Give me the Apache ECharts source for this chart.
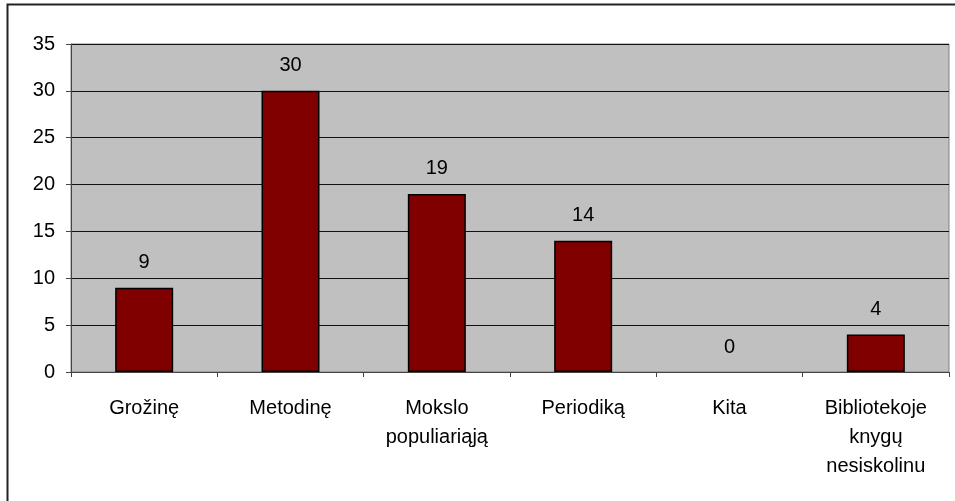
<!DOCTYPE html>
<html>
<head>
<meta charset="utf-8">
<script src="https://cdn.jsdelivr.net/npm/echarts@6/dist/echarts.min.js"></script>
<style>
  html, body { margin: 0; padding: 0; background: #fff; }
  #chart { width: 955px; height: 501px; }
</style>
</head>
<body>
<div id="chart"></div>
<script>
var categories = ['Grožinę', 'Metodinę', 'Mokslo\npopuliariąją', 'Periodiką', 'Kita', 'Bibliotekoje\nknygų\nnesiskolinu'];
var values = [9, 30, 19, 14, 0, 4];
var yTicks = [0, 5, 10, 15, 20, 25, 30, 35];

var chart = echarts.init(document.getElementById('chart'));
var font = 'Liberation Sans, Arial, sans-serif';

// zero-height bars get no outline, like the original
var barData = values.map(function (v) {
  return v === 0 ? { value: v, itemStyle: { borderWidth: 0 } } : v;
});

chart.setOption({
  animation: false,
  backgroundColor: '#fff',
  textStyle: { fontFamily: font },
  graphic: [{
    type: 'rect',
    shape: { x: 7.5, y: 4.5, width: 1000, height: 600 },
    style: { fill: 'none', stroke: '#222', lineWidth: 2 },
    z: 100
  }],
  grid: {
    left: 71, top: 44, right: 6, bottom: 129,
    show: true,
    backgroundColor: '#c0c0c0',
    borderColor: '#808080',
    borderWidth: 1
  },
  xAxis: {
    type: 'category',
    data: categories,
    axisLine: { lineStyle: { color: '#444', width: 1 } },
    axisTick: { show: true, length: 5, alignWithLabel: false, lineStyle: { color: '#444' } },
    axisLabel: { color: '#000', fontSize: 20, margin: 22, lineHeight: 29, interval: 0 }
  },
  yAxis: {
    type: 'value',
    min: yTicks[0],
    max: yTicks[yTicks.length - 1],
    interval: 5,
    axisLine: { show: true, lineStyle: { color: '#444', width: 1 } },
    axisTick: { show: true, length: 5, lineStyle: { color: '#444' } },
    axisLabel: { color: '#000', fontSize: 20, margin: 16 },
    splitLine: { show: true, lineStyle: { color: '#111', width: 1 } }
  },
  series: [{
    type: 'bar',
    data: barData,
    barWidth: 58,
    itemStyle: { color: '#800000', borderColor: '#000', borderWidth: 1.5 },
    label: {
      show: true,
      position: 'top',
      distance: 15,
      color: '#000',
      fontSize: 20
    }
  }]
});
</script>
</body>
</html>
